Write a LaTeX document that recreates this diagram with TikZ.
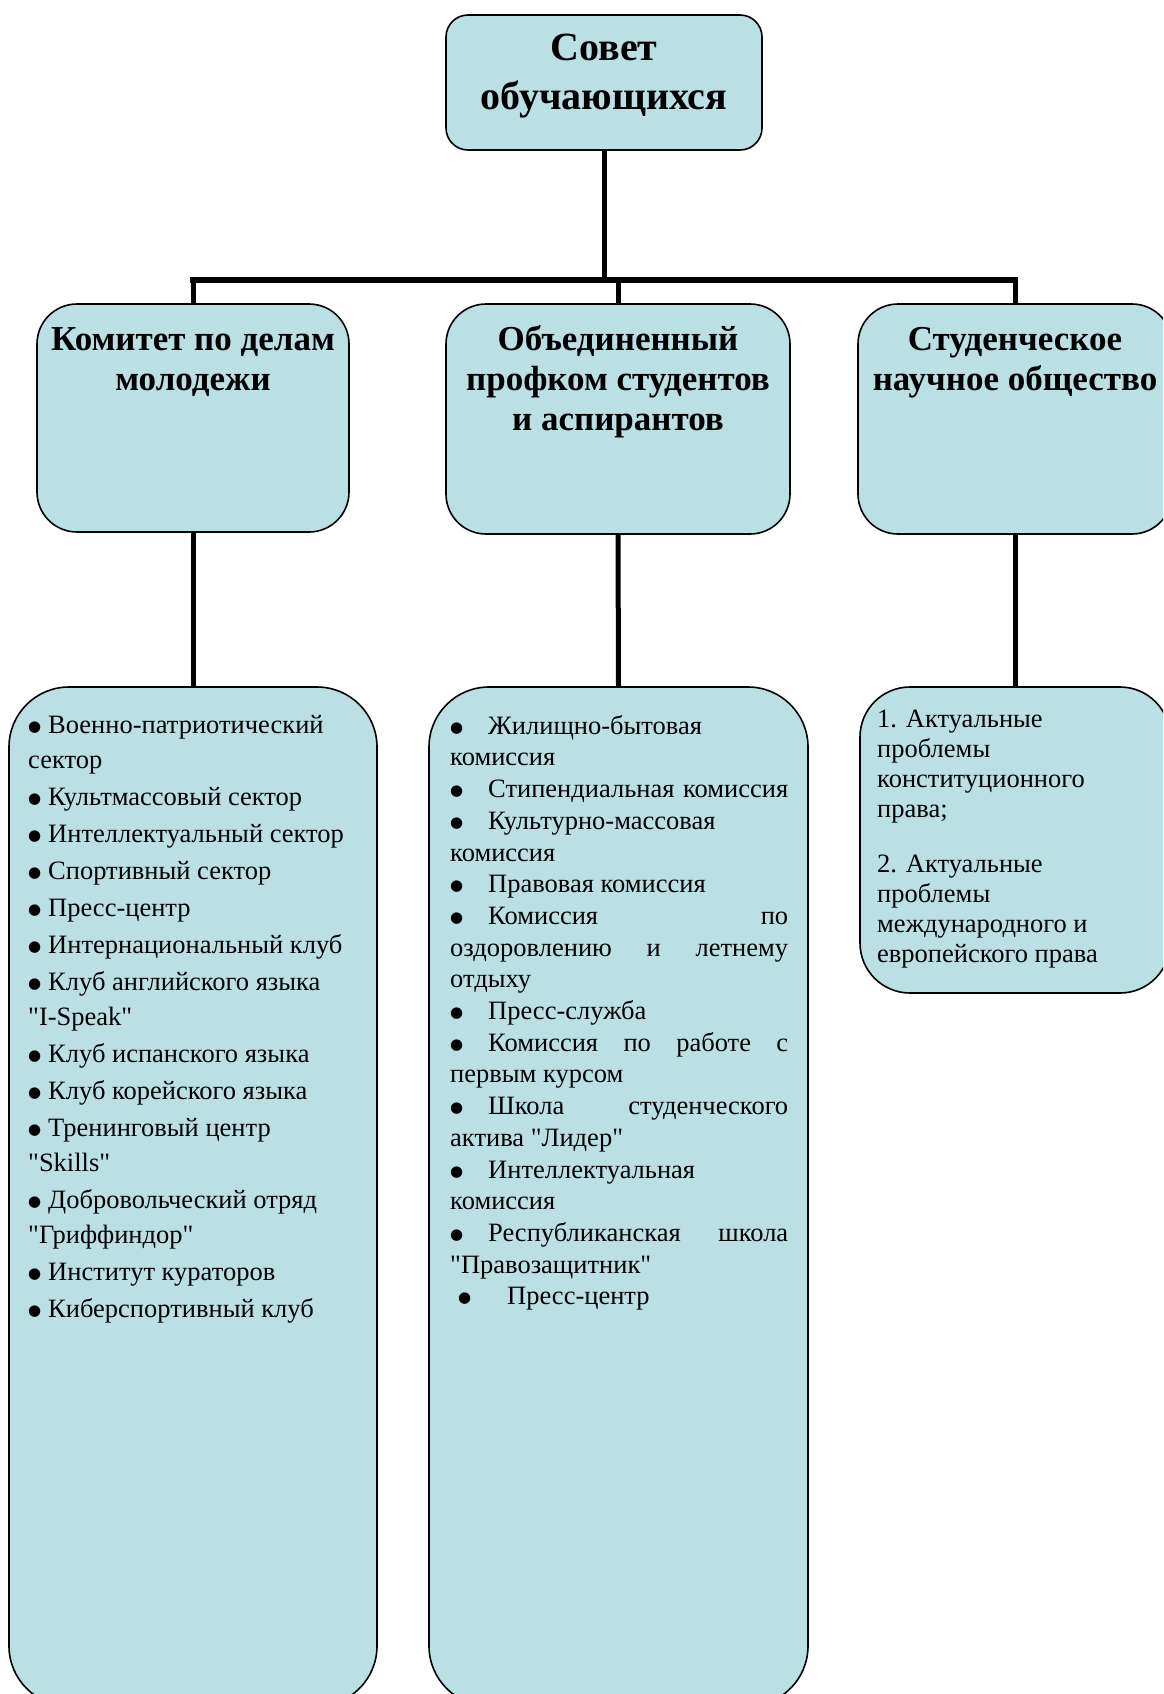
\documentclass[tikz,border=0pt]{standalone}
\usepackage{fontspec}
\setmainfont{Liberation Serif}[Ligatures=TeXOff]
\newfontfamily\bulfont{DejaVu Sans}
\definecolor{boxfill}{RGB}{186,224,227}
\tikzset{
  box/.style={draw=black, line width=1.6pt, fill=boxfill, inner sep=0pt},
  conn/.style={line width=5pt},
  busline/.style={line width=6pt, line cap=rect},
  title/.style={inner sep=0pt, align=center, anchor=north, font=\bfseries\fontsize{35}{40}\selectfont},
  toptitle/.style={inner sep=0pt, align=center, anchor=north, font=\bfseries\fontsize{40}{49}\selectfont},
  bodyA/.style={inner sep=0pt, align=left, anchor=north west, font=\fontsize{26.5}{35}\selectfont},
  bodyB/.style={inner sep=0pt, align=left, anchor=north west, font=\fontsize{26.5}{31.7}\selectfont},
  bodyC/.style={inner sep=0pt, align=left, anchor=north west, font=\fontsize{26.5}{30.1}\selectfont},
}
\newcommand{\bul}{\raisebox{2pt}{\bulfont\fontsize{15}{0}\selectfont ●}}
\newcommand{\bA}{\makebox[20pt][l]{\bul}}
\newcommand{\bB}{\makebox[38pt][l]{\bul}}
\begin{document}
\begin{tikzpicture}[x=1pt,y=-1pt]
\useasboundingbox (0,0) rectangle (1163,1694);
\clip (0,0) rectangle (1163,1694);

% boxes
\node[box, rounded corners=22, minimum width=316, minimum height=135] (top) at (604,82.5) {};
\node[box, rounded corners=40, minimum width=312, minimum height=228] (m1) at (193,418) {};
\node[box, rounded corners=40, minimum width=344, minimum height=230] (m2) at (618,419) {};
\node[box, rounded corners=40, minimum width=314, minimum height=230] (m3) at (1015,419) {};
\node[box, rounded corners=60, minimum width=368, minimum height=1019] (b1) at (193,1196.5) {};
\node[box, rounded corners=60, minimum width=379, minimum height=1019] (b2) at (618.5,1196.5) {};
\node[box, rounded corners=50, minimum width=310, minimum height=306] (b3) at (1015,840) {};

% connectors
\coordinate (busL) at (193,280);
\coordinate (busR) at (1015,280);
\draw[conn] (top.south) -- (top.south |- busL);
\draw[busline] (busL) -- (busR);
\draw[conn] (busL) -- (m1.north);
\draw[conn] (m2.north |- busL) -- (m2.north);
\draw[conn] (busR) -- (m3.north);
\draw[conn] (m1.south) -- (b1.north);
\draw[conn] (m2.south) -- (b2.north);
\draw[conn] (m3.south) -- (b3.north);

% titles
\node[toptitle] (tTop) at (604,25) {\rule{0pt}{35pt}Совет\\обучающихся};
\node[title] (t1) at (193,320) {\rule{0pt}{30pt}Комитет по делам\\молодежи};
\node[title] (t2) at (618,320) {\rule{0pt}{30pt}Объединенный\\профком студентов\\и аспирантов};
\node[title] (t3) at (1015,320) {\rule{0pt}{30pt}Студенческое\\научное общество};

% lists
\node[bodyA] (l1) at (28,709) {\rule{0pt}{24pt}\bA Военно-патриотический\\
сектор\\[2pt]
\bA Культмассовый сектор\\[2pt]
\bA Интеллектуальный сектор\\[2pt]
\bA Спортивный сектор\\[2pt]
\bA Пресс-центр\\[2pt]
\bA Интернациональный клуб\\[2pt]
\bA Клуб английского языка\\
"I-Speak"\\[2pt]
\bA Клуб испанского языка\\[2pt]
\bA Клуб корейского языка\\[2pt]
\bA Тренинговый центр\\
"Skills"\\[2pt]
\bA Добровольческий отряд\\
"Гриффиндор"\\[2pt]
\bA Институт кураторов\\[2pt]
\bA Киберспортивный клуб};

\node[bodyB] (l2) at (450,710) {\rule{0pt}{24pt}\bB Жилищно-бытовая\\
комиссия\\
\bB\makebox[300pt][s]{Стипендиальная комиссия}\\
\bB Культурно-массовая\\
комиссия\\
\bB Правовая комиссия\\
\bB\makebox[300pt][s]{Комиссия по}\\
\makebox[338pt][s]{оздоровлению и летнему}\\
отдыху\\
\bB Пресс-служба\\
\bB\makebox[300pt][s]{Комиссия по работе с}\\
первым курсом\\
\bB\makebox[300pt][s]{Школа студенческого}\\
актива "Лидер"\\
\bB Интеллектуальная\\
комиссия\\
\bB\makebox[300pt][s]{Республиканская школа}\\
"Правозащитник"\\
\hspace*{8pt}\makebox[49pt][l]{\bul}Пресс-центр};

\node[bodyC] (l3) at (877,703) {\rule{0pt}{24pt}1. Актуальные\\
проблемы\\
конституционного\\
права;\\[25pt]
2. Актуальные\\
проблемы\\
международного и\\
европейского права};
\end{tikzpicture}
\end{document}
